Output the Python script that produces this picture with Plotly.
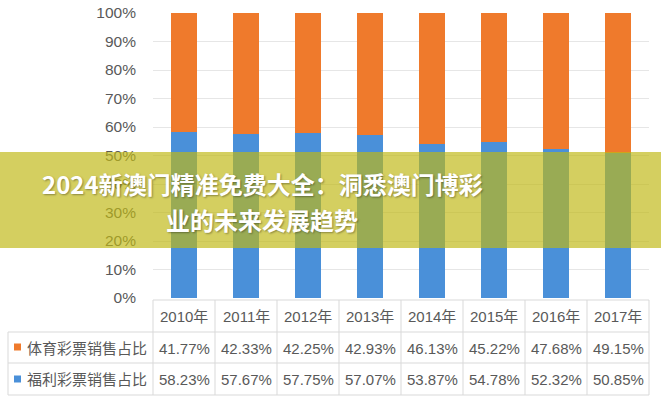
import plotly.graph_objects as go

years = ["2010年", "2011年", "2012年", "2013年", "2014年", "2015年", "2016年", "2017年"]
sports = [41.77, 42.33, 42.25, 42.93, 46.13, 45.22, 47.68, 49.15]
welfare = [58.23, 57.67, 57.75, 57.07, 53.87, 54.78, 52.32, 50.85]
sports_name = "体育彩票销售占比"
welfare_name = "福利彩票销售占比"
title_lines = ["2024新澳门精准免费大全：洞悉澳门博彩", "业的未来发展趋势"]
yticks = [0, 10, 20, 30, 40, 50, 60, 70, 80, 90, 100]

W, H = 661, 400
L, R, T, B = 153, 12, 13, 102
pw, ph = W - L - R, H - T - B

def px(x):
    return (x - L) / pw

def py(y):
    return (H - B - y) / ph

FONT = "Liberation Sans, Arial, Noto Sans CJK SC, sans-serif"
GRAY = "#595959"
LINE = "#d9d9d9"
ORANGE = "#ef7a2c"
BLUE = "#4a90d9"

fig = go.Figure()
fig.add_bar(x=years, y=[v / 100 for v in welfare], name=welfare_name,
            marker=dict(color=BLUE, line=dict(width=0)), width=0.42)
fig.add_bar(x=years, y=[v / 100 for v in sports], name=sports_name,
            marker=dict(color=ORANGE, line=dict(width=0)), width=0.42)

shapes = []
annotations = []

# table lines
col_edges = [L + i * pw / len(years) for i in range(len(years) + 1)]
row_y = [300, 332, 363, 395]
shapes.append(dict(type="line", xref="paper", yref="paper", x0=px(L), x1=px(W - R),
                   y0=py(300), y1=py(300), line=dict(color=LINE, width=1)))
for ry in row_y[1:]:
    shapes.append(dict(type="line", xref="paper", yref="paper", x0=px(8), x1=px(W - R),
                       y0=py(ry), y1=py(ry), line=dict(color=LINE, width=1)))
for cx in col_edges:
    shapes.append(dict(type="line", xref="paper", yref="paper", x0=px(cx), x1=px(cx),
                       y0=py(300), y1=py(395), line=dict(color=LINE, width=1)))
shapes.append(dict(type="line", xref="paper", yref="paper", x0=px(8), x1=px(8),
                   y0=py(332), y1=py(395), line=dict(color=LINE, width=1)))

# legend squares
for yc, col in [(347, ORANGE), (379, BLUE)]:
    shapes.append(dict(type="rect", xref="paper", yref="paper", x0=px(14), x1=px(21),
                       y0=py(yc + 3.5), y1=py(yc - 3.5), fillcolor=col, line=dict(width=0)))

tfont = dict(family=FONT, size=15, color=GRAY)
for i, yr in enumerate(years):
    annotations.append(dict(x=yr, xref="x", y=py(316), yref="paper", text=yr, showarrow=False,
                            font=tfont, xanchor="center", yanchor="middle"))
    annotations.append(dict(x=yr, xref="x", y=py(348), yref="paper", text=f"{sports[i]:.2f}%", showarrow=False,
                            font=tfont, xanchor="center", yanchor="middle"))
    annotations.append(dict(x=yr, xref="x", y=py(379), yref="paper", text=f"{welfare[i]:.2f}%", showarrow=False,
                            font=tfont, xanchor="center", yanchor="middle"))

for yc, name in [(348, sports_name), (379, welfare_name)]:
    annotations.append(dict(x=px(87), y=py(yc), xref="paper", yref="paper", text=name, showarrow=False,
                            font=tfont, xanchor="center", yanchor="middle"))

# banner overlay
shapes.append(dict(type="rect", xref="paper", yref="paper", x0=px(-5), x1=px(W + 5),
                   y0=py(248), y1=py(152), fillcolor="rgba(192,184,20,0.68)",
                   line=dict(width=0), layer="above"))
for yc, line in [(183, title_lines[0]), (219, title_lines[1])]:
    annotations.append(dict(x=px(262), y=py(yc), xref="paper", yref="paper", text=line, showarrow=False,
                            font=dict(family="Noto Sans CJK SC, sans-serif", size=24, color="white", weight=700,
                                      shadow="1px 1px 2px rgba(0,0,0,0.35)"),
                            xanchor="center", yanchor="middle"))

fig.update_layout(
    width=W, height=H, barmode="stack", showlegend=False,
    margin=dict(l=L, r=R, t=T, b=B, autoexpand=False),
    paper_bgcolor="white", plot_bgcolor="white",
    shapes=shapes, annotations=annotations,
    xaxis=dict(showticklabels=False, showgrid=False, zeroline=False, showline=False, automargin=False,
               range=[-0.5, len(years) - 0.5], fixedrange=True),
    yaxis=dict(range=[0, 1], tickvals=[v / 100 for v in yticks], automargin=False,
               ticktext=[f"{v}%" for v in yticks], showgrid=True, gridcolor="#e6e6e6",
               zeroline=False, showline=False, ticks="", ticklabelstandoff=16,
               tickfont=dict(family=FONT, size=15.5, color=GRAY)),
)

fig.write_html("out.html", config={"displayModeBar": False},
               post_script="document.body.style.margin='0';")
